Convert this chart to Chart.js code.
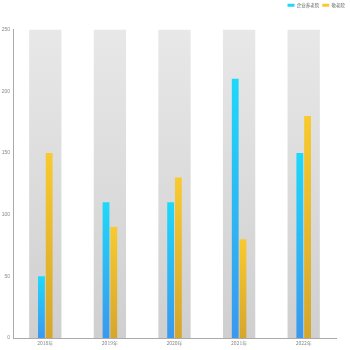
<!DOCTYPE html>
<html>
<head>
<meta charset="utf-8">
<script src="https://cdn.jsdelivr.net/npm/chart.js@4"></script>
<style>
  html, body { margin: 0; padding: 0; background: #fff; }
  #wrap { width: 350px; height: 350px; }
</style>
</head>
<body>
<div id="wrap"><canvas id="chart" width="350" height="350"></canvas></div>
<script>
const years = ['2018年', '2019年', '2020年', '2021年', '2022年'];
const companyHomes = [50, 110, 110, 210, 150];
const elderHomes = [150, 90, 130, 80, 180];
const backdrop = [250, 250, 250, 250, 250];
const yTicks = [0, 50, 100, 150, 200, 250];

// gradient from the top of each bar down to the axis
function barGradient(top, bottom) {
  return function (c) {
    const chart = c.chart;
    const area = chart.chartArea;
    if (!area || c.raw == null) return bottom;
    const y = chart.scales.y.getPixelForValue(c.raw);
    const g = chart.ctx.createLinearGradient(0, y, 0, area.bottom);
    g.addColorStop(0, top);
    g.addColorStop(1, bottom);
    return g;
  };
}

// leave some room under the legend
const legendGap = {
  id: 'legendGap',
  beforeInit(chart) {
    const fit = chart.legend.fit;
    chart.legend.fit = function () {
      fit.call(this);
      this.height += 12;
    };
  }
};

new Chart(document.getElementById('chart'), {
  type: 'bar',
  data: {
    labels: years,
    datasets: [
      {
        label: '企业养老院',
        data: companyHomes,
        backgroundColor: barGradient('#1fd8f9', '#3b98ee'),
        categoryPercentage: 0.24,
        barPercentage: 0.88,
        order: 1
      },
      {
        label: '敬老院',
        data: elderHomes,
        backgroundColor: barGradient('#f8ca2e', '#d6a62c'),
        categoryPercentage: 0.24,
        barPercentage: 0.88,
        order: 1
      },
      {
        label: 'bg',
        data: backdrop,
        grouped: false,
        backgroundColor: barGradient('#e8e8e8', '#cfcfcf'),
        categoryPercentage: 0.5,
        barPercentage: 1,
        order: 2
      }
    ]
  },
  options: {
    responsive: false,
    animation: false,
    layout: { padding: { left: 0, right: 2, top: 0, bottom: 2 } },
    plugins: {
      tooltip: { enabled: false },
      legend: {
        align: 'end',
        labels: {
          filter: item => item.text !== 'bg',
          boxWidth: 7,
          boxHeight: 3,
          padding: 3,
          color: '#666',
          font: { size: 4.5, family: 'Noto Sans CJK SC' }
        }
      }
    },
    scales: {
      x: {
        grid: { display: false, drawTicks: false },
        border: { color: '#aaa' },
        ticks: { color: '#888', font: { size: 5, family: 'Noto Sans CJK SC' }, padding: 2 }
      },
      y: {
        min: 0,
        max: 250,
        afterBuildTicks: axis => { axis.ticks = yTicks.map(v => ({ value: v })); },
        grid: { display: false, drawTicks: false },
        border: { color: '#aaa' },
        ticks: { color: '#888', font: { size: 5 }, padding: 3 },
        afterFit: axis => { axis.width = 13; }
      },
      pad: {
        position: 'right',
        grid: { display: false, drawTicks: false },
        border: { display: false },
        ticks: { display: false },
        afterFit: axis => { axis.width = 12; }
      }
    }
  },
  plugins: [legendGap]
});
</script>
</body>
</html>
